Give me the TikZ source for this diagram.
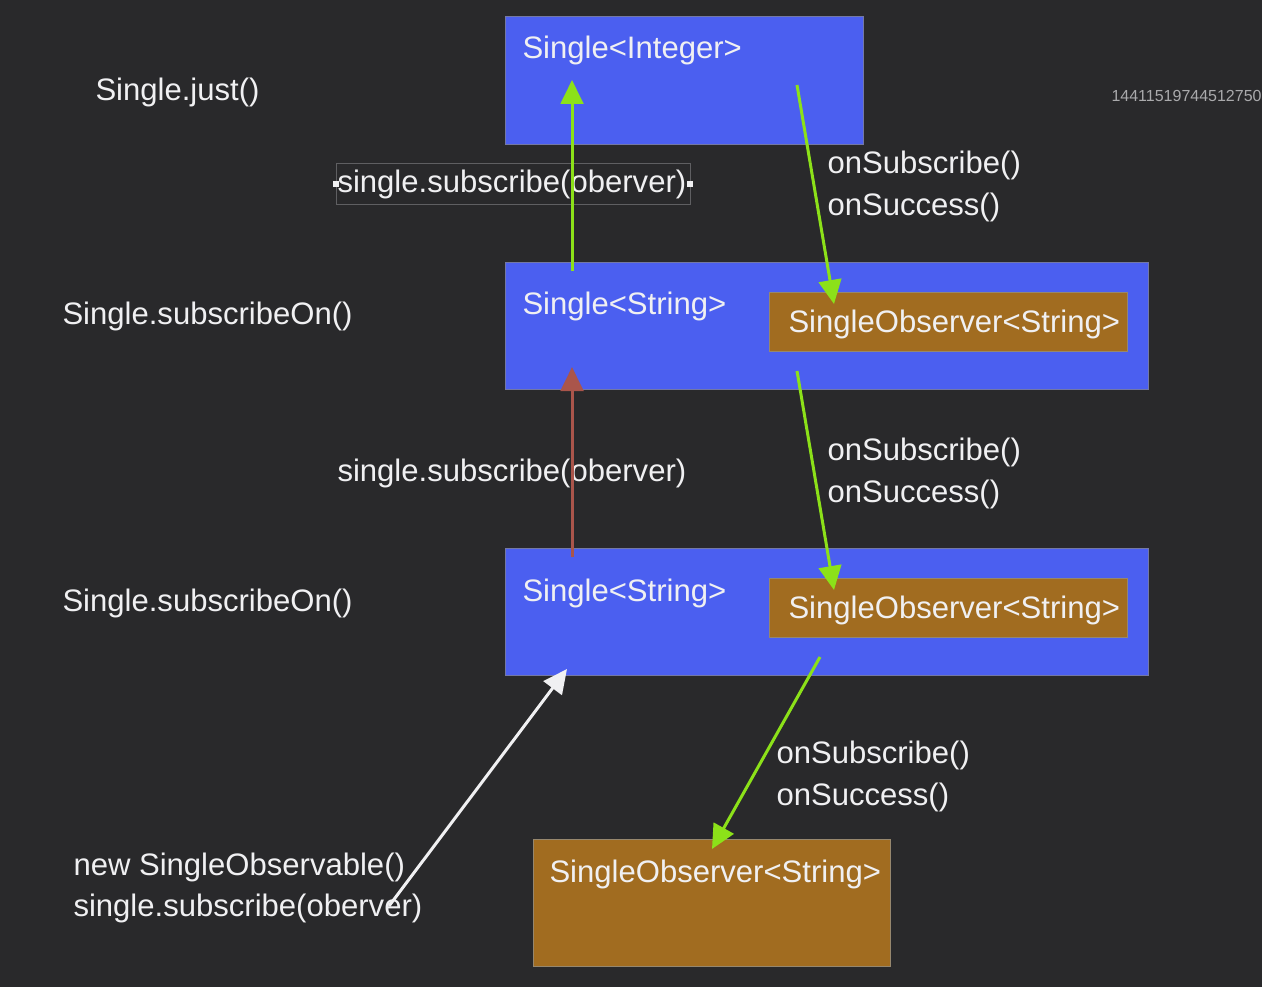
\documentclass[tikz,border=0pt]{standalone}
\usepackage{fontspec}
\setmainfont{Liberation Sans}
\usetikzlibrary{arrows.meta}

\definecolor{bgdark}{RGB}{41,41,43}
\definecolor{boxblue}{RGB}{75,95,240}
\definecolor{blueedge}{RGB}{115,120,165}
\definecolor{boxbrown}{RGB}{161,108,32}
\definecolor{brownedge}{RGB}{150,135,110}
\definecolor{txtwhite}{RGB}{240,240,242}
\definecolor{flowgreen}{RGB}{140,225,25}
\definecolor{flowred}{RGB}{170,85,75}
\definecolor{framegrey}{RGB}{95,95,98}
\definecolor{idgrey}{RGB}{170,170,172}

\tikzset{every picture/.style={line width=0.75pt}}

\begin{document}
\begin{tikzpicture}[x=0.75pt,y=0.75pt,yscale=-1,xscale=1,
	txt/.style={anchor=base west,text=txtwhite,inner sep=0pt,font=\fontsize{23.3}{28}\selectfont},
	bluebox/.style={draw=blueedge,fill=boxblue,anchor=north west,inner sep=0pt},
	brownbox/.style={draw=brownedge,fill=boxbrown,anchor=north west,inner sep=0pt},
	flow/.style={line width=2.25pt,-{Triangle[length=18pt,width=17pt]}}]

	%Background
	\fill [bgdark] (0,0) rectangle (1262,987) ;

	%Shape: Rectangle [id:justBox]
	\node [bluebox,minimum width=268.5pt,minimum height=96pt] (justBox) at (505,16) {};
	%Shape: Rectangle [id:subOnA]
	\node [bluebox,minimum width=482.25pt,minimum height=95.25pt] (subOnA) at (505,262) {};
	%Shape: Rectangle [id:obsA]
	\node [brownbox,minimum width=268.5pt,minimum height=44.25pt] (obsA) at (769,292) {};
	%Shape: Rectangle [id:subOnB]
	\node [bluebox,minimum width=482.25pt,minimum height=95.25pt] (subOnB) at (505,548) {};
	%Shape: Rectangle [id:obsB]
	\node [brownbox,minimum width=268.5pt,minimum height=44.25pt] (obsB) at (769,578) {};
	%Shape: Rectangle [id:obsC]
	\node [brownbox,minimum width=267.75pt,minimum height=95.25pt] (obsC) at (533,839) {};

	% Text Node
	\node [txt] (justLbl) at (95,101) {Single.just()};
	% Text Node
	\node [txt] (intLbl) at (522,59) {Single<Integer>};
	% Text Node
	\node [anchor=base west,inner sep=0pt,text=idgrey,font=\fontsize{12}{14}\selectfont] (idLbl) at (1111,102) {14411519744512750};
	% Text Node
	\node [txt] (subTop) at (337,193) {single.subscribe(oberver)};
	\draw [framegrey] (336,164) rectangle (690,205) ;
	\fill [txtwhite] (333,181) rectangle (339,187) ;
	\fill [txtwhite] (687,181) rectangle (693,187) ;
	% Text Node
	\node [txt] (onLblA) at (62,325) {Single.subscribeOn()};
	% Text Node
	\node [txt] (strLblA) at (522,315) {Single<String>};
	% Text Node
	\node [txt] (obsLblA) at (788,332) {SingleObserver<String>};
	% Text Node
	\node [txt] (cbA1) at (827,174) {onSubscribe()};
	% Text Node
	\node [txt] (cbA2) at (827,216) {onSuccess()};
	% Text Node
	\node [txt] (subMid) at (337,481) {single.subscribe(oberver)};
	% Text Node
	\node [txt] (onLblB) at (62,611) {Single.subscribeOn()};
	% Text Node
	\node [txt] (strLblB) at (522,601) {Single<String>};
	% Text Node
	\node [txt] (obsLblB) at (788,618) {SingleObserver<String>};
	% Text Node
	\node [txt] (cbB1) at (827,460) {onSubscribe()};
	% Text Node
	\node [txt] (cbB2) at (827,502) {onSuccess()};
	% Text Node
	\node [txt] (cbC1) at (776,763) {onSubscribe()};
	% Text Node
	\node [txt] (cbC2) at (776,805) {onSuccess()};
	% Text Node
	\node [txt] (newLbl) at (73,875) {new SingleObservable()};
	% Text Node
	\node [txt] (subLow) at (73,916) {single.subscribe(oberver)};
	% Text Node
	\node [txt] (obsLblC) at (549,882) {SingleObserver<String>};

	%Arrow ends
	\coordinate (upGs) at (572,271) ;
	\coordinate (upGe) at (572,80) ;
	\coordinate (upRs) at (572,557) ;
	\coordinate (upRe) at (572,367) ;
	\coordinate (dnAs) at (797,85) ;
	\coordinate (dnAe) at (834,304) ;
	\coordinate (dnBs) at (797,371) ;
	\coordinate (dnBe) at (834,590) ;
	\coordinate (dnCs) at (820,657) ;
	\coordinate (dnCe) at (712,849) ;
	\coordinate (newS) at (389,906) ;
	\coordinate (newE) at (567,669) ;

	%Straight Lines
	\draw [flow,flowgreen] (upGs) -- (upGe) ;
	\draw [flow,flowred] (upRs) -- (upRe) ;
	\draw [flow,flowgreen] (dnAs) -- (dnAe) ;
	\draw [flow,flowgreen] (dnBs) -- (dnBe) ;
	\draw [flow,flowgreen] (dnCs) -- (dnCe) ;
	\draw [flow,txtwhite] (newS) -- (newE) ;

\end{tikzpicture}
\end{document}
